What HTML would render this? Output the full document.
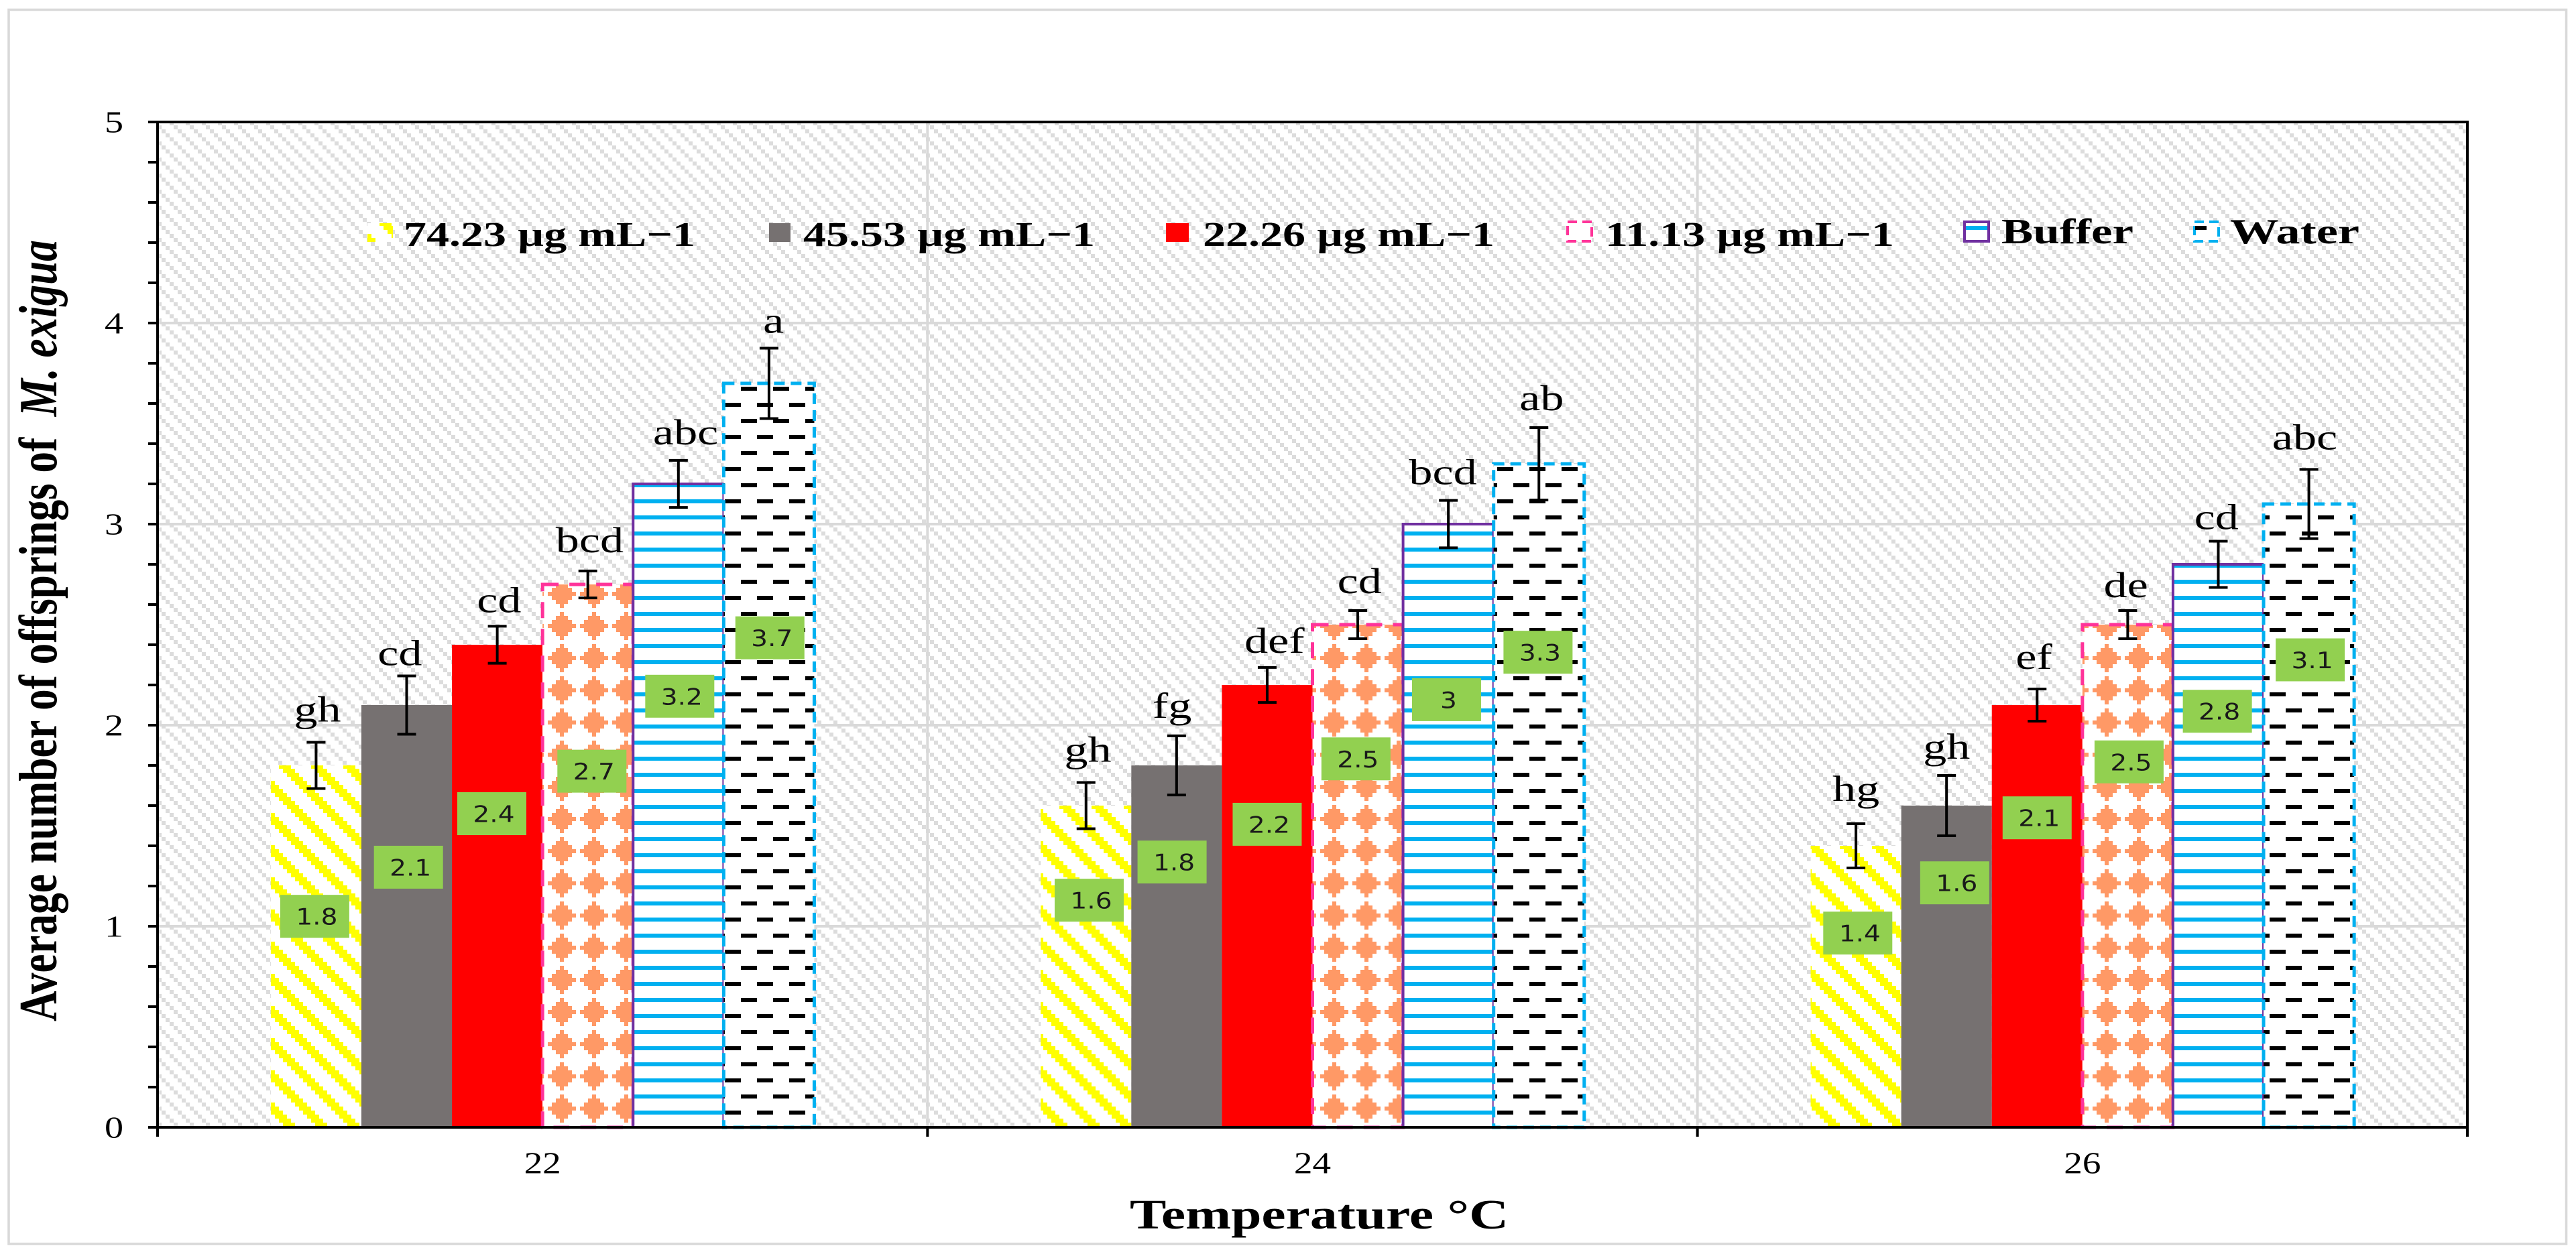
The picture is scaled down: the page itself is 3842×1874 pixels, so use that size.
<!DOCTYPE html>
<html lang="en">
<head>
<meta charset="utf-8">
<title>Average number of offsprings of M. exigua by temperature</title>
<style>
html,body{margin:0;padding:0;background:#fff;width:3842px;height:1874px;overflow:hidden}
svg{display:block;font-family:"Liberation Serif",serif}
</style>
</head>
<body>
<svg id="chart" xmlns="http://www.w3.org/2000/svg" width="3842" height="1874" viewBox="0 0 3842 1874">
<defs>
<pattern id="p-bg" patternUnits="userSpaceOnUse" width="24" height="24" patternTransform="translate(235,187)" shape-rendering="crispEdges">
<rect width="24" height="24" fill="#fff"/>
<rect x="0" y="0" width="6" height="6" fill="#dcdcdc"/>
<rect x="6" y="6" width="6" height="6" fill="#dcdcdc"/>
<rect x="12" y="12" width="6" height="6" fill="#dcdcdc"/>
<rect x="18" y="18" width="6" height="6" fill="#dcdcdc"/>
</pattern>
<pattern id="p-yellow" patternUnits="userSpaceOnUse" width="48" height="48" patternTransform="translate(422,1675)" shape-rendering="crispEdges">
<rect width="48" height="48" fill="#fff"/>
<g fill="#ffff00">
<rect x="0" y="0" width="18" height="6"/>
<rect x="6" y="6" width="18" height="6"/>
<rect x="12" y="12" width="18" height="6"/>
<rect x="18" y="18" width="18" height="6"/>
<rect x="24" y="24" width="18" height="6"/>
<rect x="30" y="30" width="18" height="6"/>
<rect x="36" y="36" width="12" height="6"/><rect x="0" y="36" width="6" height="6"/>
<rect x="42" y="42" width="6" height="6"/><rect x="0" y="42" width="12" height="6"/>
</g>
</pattern>
<pattern id="p-orange" patternUnits="userSpaceOnUse" width="48" height="48" patternTransform="translate(817,1441)" shape-rendering="crispEdges">
<rect width="48" height="48" fill="#fff"/>
<g fill="#ff9966">
<rect x="18" y="0" width="6" height="6"/>
<rect x="12" y="6" width="18" height="6"/>
<rect x="6" y="12" width="30" height="6"/>
<rect x="0" y="18" width="42" height="6"/>
<rect x="6" y="24" width="30" height="6"/>
<rect x="12" y="30" width="18" height="6"/>
<rect x="18" y="36" width="6" height="6"/>
</g>
</pattern>
<pattern id="p-blue" patternUnits="userSpaceOnUse" width="24" height="24" patternTransform="translate(0,1417)" shape-rendering="crispEdges">
<rect width="24" height="24" fill="#fff"/>
<rect x="0" y="0" width="24" height="6" fill="#00b0f0"/>
</pattern>
<pattern id="p-dash" patternUnits="userSpaceOnUse" width="48" height="48" patternTransform="translate(1129,1417)" shape-rendering="crispEdges">
<rect width="48" height="48" fill="#fff"/>
<rect x="0" y="0" width="24" height="6" fill="#000"/>
<rect x="24" y="24" width="24" height="6" fill="#000"/>
</pattern>
</defs>

<rect x="0" y="0" width="3842" height="1874" fill="#ffffff"/>
<rect x="13" y="14.5" width="3814.5" height="1841.5" fill="#ffffff" stroke="#d9d9d9" stroke-width="3.6"/>
<rect x="235" y="182" width="3445" height="1500" fill="url(#p-bg)"/>

<g id="grid"></g>

<g>
  <g>
    <rect x="548" y="333" width="38" height="28" fill="url(#p-yellow)"/>
    <text x="602" y="367" font-size="52" font-weight="bold" textLength="435" lengthAdjust="spacingAndGlyphs">74.23 µg mL−1</text>
  </g>
  <g>
    <rect x="1147" y="333" width="32" height="28" fill="#767171"/>
    <text x="1198" y="367" font-size="52" font-weight="bold" textLength="435" lengthAdjust="spacingAndGlyphs">45.53 µg mL−1</text>
  </g>
  <g>
    <rect x="1739" y="333" width="34" height="28" fill="#ff0000"/>
    <text x="1794" y="367" font-size="52" font-weight="bold" textLength="435" lengthAdjust="spacingAndGlyphs">22.26 µg mL−1</text>
  </g>
  <g>
    <rect x="2338" y="331" width="36" height="29" fill="#fff" stroke="#ff3399" stroke-width="4" stroke-dasharray="14 8"/>
    <text x="2394" y="367" font-size="52" font-weight="bold" textLength="431" lengthAdjust="spacingAndGlyphs">11.13 µg mL−1</text>
  </g>
  <g>
    <rect x="2930" y="331" width="36" height="29" fill="#fff" stroke="#7030a0" stroke-width="4"/>
    <rect x="2932" y="337" width="32" height="6" fill="#00b0f0"/>
    <text x="2985" y="363" font-size="53" font-weight="bold" textLength="197" lengthAdjust="spacingAndGlyphs">Buffer</text>
  </g>
  <g>
    <rect x="3273" y="331" width="36" height="29" fill="#fff" stroke="#00b0f0" stroke-width="4" stroke-dasharray="14 8"/>
    <rect x="3274" y="337" width="17" height="6" fill="#000"/>
    <text x="3326" y="363" font-size="53" font-weight="bold" textLength="193" lengthAdjust="spacingAndGlyphs">Water</text>
  </g>
</g>

<g id="bars"></g>
<g id="axes"></g>
<g id="errors"></g>
<g id="labels"></g>
<g id="letters"></g>

<text id="y-title" font-size="80" font-weight="bold" xml:space="preserve">Average number of offsprings of  <tspan font-style="italic">M. exigua</tspan></text>
<text x="1685" y="1833" font-size="62" font-weight="bold" textLength="565" lengthAdjust="spacingAndGlyphs">Temperature °C</text>
</svg>

<script>
// ---- chart data ----
const categories = ['22', '24', '26'];
const seriesNames = ['74-23', '45-53', '22-26', '11-13', 'buffer', 'water'];
const values7423 = [1.8, 1.6, 1.4];
const values4553 = [2.1, 1.8, 1.6];
const values2226 = [2.4, 2.2, 2.1];
const values1113 = [2.7, 2.5, 2.5];
const valuesBuffer = [3.2, 3.0, 2.8];
const valuesWater = [3.7, 3.3, 3.1];
const errors7423 = [0.115, 0.115, 0.11];
const errors4553 = [0.145, 0.147, 0.15];
const errors2226 = [0.092, 0.087, 0.08];
const errors1113 = [0.067, 0.07, 0.07];
const errorsBuffer = [0.117, 0.118, 0.115];
const errorsWater = [0.175, 0.18, 0.172];
const letters7423 = ['gh', 'gh', 'hg'];
const letters4553 = ['cd', 'fg', 'gh'];
const letters2226 = ['cd', 'def', 'ef'];
const letters1113 = ['bcd', 'cd', 'de'];
const lettersBuffer = ['abc', 'bcd', 'cd'];
const lettersWater = ['a', 'ab', 'abc'];
// how far above each whisker its letter sits, in axis units
const lift7423 = [0.103, 0.103, 0.113];
const lift4553 = [0.053, 0.09, 0.083];
const lift2226 = [0.07, 0.073, 0.1];
const lift1113 = [0.093, 0.087, 0.067];
const liftBuffer = [0.08, 0.08, 0.06];
const liftWater = [0.077, 0.087, 0.1];
// share of each bar's height at which its value box is centred
const boxShare7423 = [0.583, 0.706, 0.69];
const boxShare4553 = [0.616, 0.733, 0.76];
const boxShare2226 = [0.65, 0.685, 0.733];
const boxShare1113 = [0.656, 0.733, 0.727];
const boxShareBuffer = [0.67, 0.709, 0.739];
const boxShareWater = [0.658, 0.716, 0.75];
// sideways drift of letters and value boxes, as a share of the bar width
const letterDrift7423 = [0.015, 0.02, 0];
const letterDrift4553 = [-0.075, -0.05, 0];
const letterDrift2226 = [0.02, 0.08, -0.035];
const letterDrift1113 = [0.02, 0.02, -0.02];
const letterDriftBuffer = [0.08, -0.06, -0.02];
const letterDriftWater = [0.05, 0.03, -0.045];
const boxDrift7423 = [-0.015, 0.035, 0.02];
const boxDrift4553 = [0.02, -0.05, 0.09];
const boxDrift2226 = [-0.06, 0, 0];
const boxDrift1113 = [0.045, -0.02, 0.015];
const boxDriftBuffer = [0.015, -0.02, -0.01];
const boxDriftWater = [0.01, -0.01, 0.015];
const yTickLabels = ['0', '1', '2', '3', '4', '5'];

const allValues = [values7423, values4553, values2226, values1113, valuesBuffer, valuesWater];
const allErrors = [errors7423, errors4553, errors2226, errors1113, errorsBuffer, errorsWater];
const allLetters = [letters7423, letters4553, letters2226, letters1113, lettersBuffer, lettersWater];
const allLifts = [lift7423, lift4553, lift2226, lift1113, liftBuffer, liftWater];
const allShares = [boxShare7423, boxShare4553, boxShare2226, boxShare1113, boxShareBuffer, boxShareWater];
const allLetterDrift = [letterDrift7423, letterDrift4553, letterDrift2226, letterDrift1113, letterDriftBuffer, letterDriftWater];
const allBoxDrift = [boxDrift7423, boxDrift4553, boxDrift2226, boxDrift1113, boxDriftBuffer, boxDriftWater];

// ---- layout and axis functions ----
const plot = { left: 235, right: 3680, top: 182, bottom: 1682, yMax: 5 };
const catWidth = (plot.right - plot.left) / categories.length;
const barWidth = catWidth / 8.5;
function yScale(v) { return plot.bottom - v / plot.yMax * (plot.bottom - plot.top); }
function barLeft(g, s) { return plot.left + catWidth * g + barWidth * (1.25 + s); }
function barCenter(g, s) { return barLeft(g, s) + barWidth / 2; }
function catCenter(g) { return plot.left + catWidth * (g + 0.5); }

const NS = 'http://www.w3.org/2000/svg';
function make(tag, attrs, parent) {
  const el = document.createElementNS(NS, tag);
  for (const k in attrs) el.setAttribute(k, attrs[k]);
  parent.appendChild(el);
  return el;
}
const barStyles = [
  { fill: 'url(#p-yellow)', stroke: 'none', sw: 0, dash: 'none' },
  { fill: '#767171', stroke: 'none', sw: 0, dash: 'none' },
  { fill: '#ff0000', stroke: 'none', sw: 0, dash: 'none' },
  { fill: 'url(#p-orange)', stroke: '#ff3399', sw: 5, dash: '24 16' },
  { fill: 'url(#p-blue)', stroke: '#7030a0', sw: 4, dash: 'none' },
  { fill: 'url(#p-dash)', stroke: '#00b0f0', sw: 5, dash: '16 9' }
];

const gridG = document.getElementById('grid');
const barsG = document.getElementById('bars');
const axesG = document.getElementById('axes');
const errG = document.getElementById('errors');
const labG = document.getElementById('labels');
const letG = document.getElementById('letters');

// gridlines
yTickLabels.forEach(function (t, i) {
  if (i === 0 || i === yTickLabels.length - 1) return;
  const line = make('line', { x1: plot.left, x2: plot.right, y1: yScale(+t), y2: yScale(+t), stroke: '#d9d9d9', 'stroke-width': 4 }, gridG);
  
  
});
for (let g = 1; g < categories.length; g++) {
  const vline = make('line', { x1: plot.left + catWidth * g, x2: plot.left + catWidth * g, y1: plot.top, y2: plot.bottom, stroke: '#d9d9d9', 'stroke-width': 4 }, gridG);
  
  
}

// bars
allValues.forEach(function (vals, s) {
  vals.forEach(function (v, g) {
    const st = barStyles[s];
    const r = make('rect', {
      x: barLeft(g, s), y: yScale(v), width: barWidth, height: plot.bottom - yScale(v),
      fill: st.fill, stroke: st.stroke, 'stroke-width': st.sw, 'stroke-dasharray': st.dash
    }, barsG);
    
    
  });
});

// axes
const axisLines = [
  ['axis-left', plot.left, plot.top, plot.left, plot.bottom],
  ['axis-right', plot.right, plot.top, plot.right, plot.bottom],
  ['axis-top', plot.left - 14, plot.top, plot.right + 2, plot.top],
  ['axis-bottom', plot.left - 14, plot.bottom, plot.right + 2, plot.bottom]
];
axisLines.forEach(function (a) {
  const l = make('line', { x1: a[1], y1: a[2], x2: a[3], y2: a[4], stroke: '#000', 'stroke-width': 4 }, axesG);
  
  
});
for (let k = 1; k < 25; k++) {
  if (k % 5 === 0) continue;
  const vt = k * 0.2;
  const mt = make('line', { x1: plot.left - 14, x2: plot.left, y1: yScale(vt), y2: yScale(vt), stroke: '#000', 'stroke-width': 4 }, axesG);
  
  
}
yTickLabels.forEach(function (t) {
  if (+t > 0 && +t < plot.yMax) {
    const mj = make('line', { x1: plot.left - 14, x2: plot.left, y1: yScale(+t), y2: yScale(+t), stroke: '#000', 'stroke-width': 4 }, axesG);
    
    
  }
  const tx = make('text', { 'font-size': 46, 'text-anchor': 'end', transform: 'translate(184,' + (yScale(+t) + 15.5) + ') scale(1.22,1)' }, axesG);
  tx.textContent = t;
  
  
});
for (let g = 0; g <= categories.length; g++) {
  const xt = make('line', { x1: plot.left + catWidth * g, x2: plot.left + catWidth * g, y1: plot.bottom, y2: plot.bottom + 14, stroke: '#000', 'stroke-width': 4 }, axesG);
  
  
}
categories.forEach(function (c, g) {
  const tx = make('text', { 'font-size': 46, 'text-anchor': 'middle', transform: 'translate(' + catCenter(g) + ',1750.5) scale(1.2,1)' }, axesG);
  tx.textContent = c;
  
  
});

// error bars, value boxes, letters
allValues.forEach(function (vals, s) {
  vals.forEach(function (v, g) {
    const cx = barCenter(g, s);
    const err = allErrors[s][g];
    const top = yScale(v + err), bot = yScale(v - err);
    const whisker = make('g', { stroke: '#000', 'stroke-width': 4 }, errG);
    
    
    make('line', { x1: cx, x2: cx, y1: top, y2: bot }, whisker);
    make('line', { x1: cx - 14, x2: cx + 14, y1: top, y2: top }, whisker);
    make('line', { x1: cx - 14, x2: cx + 14, y1: bot, y2: bot }, whisker);

    const boxX = cx + allBoxDrift[s][g] * barWidth;
    const boxY = yScale(v * allShares[s][g]);
    const box = make('g', {}, labG);
    
    
    make('rect', { x: boxX - 51.5, y: boxY - 32, width: 103, height: 64, fill: '#92d050' }, box);
    const vt = make('text', {
      'font-size': 34, 'text-anchor': 'middle', fill: '#1a1a1a',
      style: 'font-family:"DejaVu Sans",sans-serif',
      transform: 'translate(' + (boxX + 3) + ',' + (boxY + 12.5) + ') scale(1.15,1)'
    }, box);
    vt.textContent = String(v);

    const letterX = cx + allLetterDrift[s][g] * barWidth;
    const lt = make('text', {
      'font-size': 54, 'text-anchor': 'middle', fill: '#000',
      transform: 'translate(' + letterX + ',' + yScale(v + err + allLifts[s][g]) + ') scale(1.3,1)'
    }, letG);
    lt.textContent = allLetters[s][g];
    
    
  });
});

// fit the y-axis title to its measured span
const yTitle = document.getElementById('y-title');
const yLen = yTitle.getComputedTextLength();
yTitle.setAttribute('transform', 'translate(84,1524) rotate(-90) scale(' + (1166 / yLen) + ',1)');
</script>
</body>
</html>
